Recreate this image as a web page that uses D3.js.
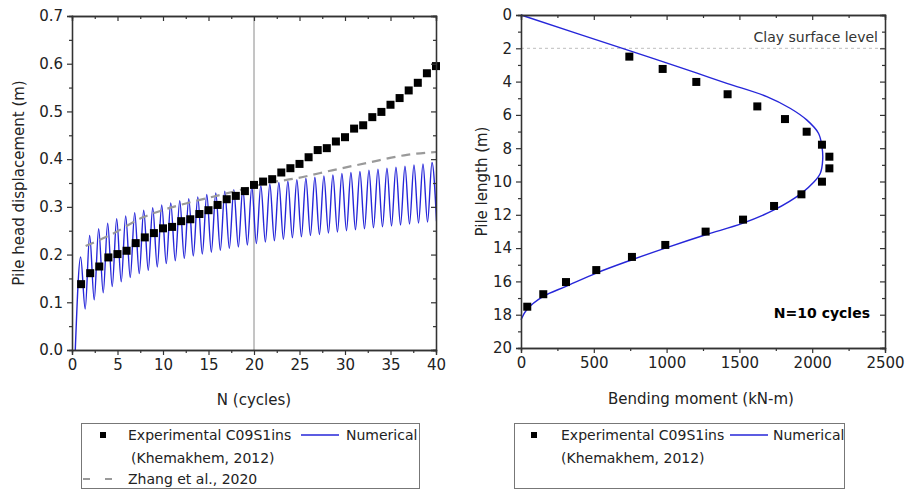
<!DOCTYPE html>
<html>
<head>
<meta charset="utf-8">
<script src="https://cdn.jsdelivr.net/npm/d3@7/dist/d3.min.js"></script>
<style>
  html, body { margin: 0; padding: 0; background: #fff; }
  svg { display: block; font-family: "DejaVu Sans", Verdana, sans-serif; }
</style>
</head>
<body>
<svg id="chart" width="906" height="491"></svg>
<script>
// ---------- Left panel: pile head displacement vs number of cycles ----------
const expCycles = [1,2,3,4,5,6,7,8,9,10,11,12,13,14,15,16,17,18,19,20,
                   21,22,23,24,25,26,27,28,29,30,31,32,33,34,35,36,37,38,39,40];
const expDisp = [0.138,0.161,0.175,0.194,0.201,0.208,0.224,0.236,0.245,0.255,
                 0.258,0.270,0.274,0.285,0.293,0.304,0.316,0.323,0.333,0.346,
                 0.353,0.358,0.372,0.381,0.390,0.404,0.419,0.423,0.437,0.446,
                 0.464,0.471,0.488,0.499,0.514,0.528,0.544,0.560,0.580,0.595];

// Numerical response: start point, then alternating cycle peaks and troughs
const numStart = [0.36, 0.0];
const numPeakN = [0.95,1.94,2.93,3.92,4.91,5.90,6.89,7.88,8.87,9.86,
                  10.85,11.84,12.83,13.82,14.81,15.80,16.79,17.78,18.77,19.76,
                  20.75,21.74,22.73,23.72,24.71,25.70,26.69,27.68,28.67,29.66,
                  30.65,31.64,32.63,33.62,34.61,35.60,36.59,37.58,38.57,39.56];
const numPeakDisp = [0.195,0.240,0.254,0.266,0.275,0.281,0.288,0.293,0.298,0.304,
                     0.308,0.313,0.317,0.321,0.326,0.329,0.333,0.336,0.339,0.342,
                     0.345,0.348,0.351,0.354,0.357,0.360,0.362,0.365,0.367,0.370,
                     0.372,0.374,0.377,0.379,0.381,0.383,0.385,0.388,0.390,0.393];
const numTroughN = [1.45,2.44,3.43,4.42,5.41,6.40,7.39,8.38,9.37,10.36,
                    11.35,12.34,13.33,14.32,15.31,16.30,17.29,18.28,19.27,20.26,
                    21.25,22.24,23.23,24.22,25.21,26.20,27.19,28.18,29.17,30.16,
                    31.15,32.14,33.13,34.12,35.11,36.10,37.09,38.08,39.07,40.06];
const numTroughDisp = [0.086,0.105,0.120,0.133,0.143,0.152,0.160,0.167,0.174,0.181,
                       0.187,0.192,0.197,0.201,0.205,0.209,0.213,0.216,0.220,0.223,
                       0.226,0.229,0.232,0.235,0.237,0.240,0.242,0.245,0.247,0.250,
                       0.252,0.254,0.256,0.258,0.260,0.262,0.264,0.266,0.268,0.270];

// Zhang et al. (2020) prediction
const zhangN = [1.5,4.2,7.8,11.9,14.8,18.0,21.5,24.7,28.7,32.4,36.8,40];
const zhangDisp = [0.218,0.241,0.278,0.304,0.318,0.333,0.350,0.360,0.377,0.392,0.409,0.415];

const leftXTicks = [0,5,10,15,20,25,30,35,40];
const leftYTicks = [0.0,0.1,0.2,0.3,0.4,0.5,0.6,0.7];

// ---------- Right panel: bending moment profile along the pile ----------
const expMoment = [744,973,1204,1419,1623,1813,1962,2067,2118,2118,2067,1926,
                   1738,1525,1268,991,762,517,309,153,43];
const expDepth = [2.50,3.24,4.02,4.76,5.49,6.25,7.01,7.79,8.51,9.21,10.01,10.77,
                  11.47,12.29,13.01,13.81,14.53,15.32,16.04,16.77,17.52];

const numMoment = [0,744,973,1204,1419,1688,1848,1962,2043,2067,2072,2056,2010,
                   1926,1738,1525,1268,991,762,517,309,153,39,0];
const numDepth = [0,2.14,2.80,3.48,4.12,4.90,5.60,6.30,7.10,7.90,8.70,9.50,10.05,
                  10.71,11.71,12.50,13.20,14.00,14.70,15.50,16.30,16.90,17.70,18.30];

const claySurfaceDepth = 2;
const rightXTicks = [0,500,1000,1500,2000,2500];
const rightYTicks = [0,2,4,6,8,10,12,14,16,18,20];

// ---------- Styling ----------
const BLUE = "#2626d9";
const AXIS = "#333";
const TEXT = "#222";

const svg = d3.select("#chart");

function framedAxes(g, x, y, xMajor, yMajor, xMinor, yMinor, xFmt, yFmt, w, h) {
  const major = 5, minor = 3;
  // bottom
  g.append("g").attr("transform", `translate(0,${h})`)
    .call(d3.axisBottom(x).tickValues(xMajor).tickSize(major).tickFormat(xFmt).tickPadding(4));
  g.append("g").attr("transform", `translate(0,${h})`)
    .call(d3.axisBottom(x).tickValues(xMinor).tickSize(minor).tickFormat(""));
  // left
  g.append("g")
    .call(d3.axisLeft(y).tickValues(yMajor).tickSize(major).tickFormat(yFmt).tickPadding(4));
  g.append("g")
    .call(d3.axisLeft(y).tickValues(yMinor).tickSize(minor).tickFormat(""));
  // top (ticks inward)
  g.append("g").call(d3.axisTop(x).tickValues(xMajor).tickSize(-major).tickFormat(""));
  g.append("g").call(d3.axisTop(x).tickValues(xMinor).tickSize(-minor).tickFormat(""));
  // right (ticks inward)
  g.append("g").attr("transform", `translate(${w},0)`)
    .call(d3.axisRight(y).tickValues(yMajor).tickSize(-major).tickFormat(""));
  g.append("g").attr("transform", `translate(${w},0)`)
    .call(d3.axisRight(y).tickValues(yMinor).tickSize(-minor).tickFormat(""));

  g.selectAll(".domain").attr("stroke", AXIS).attr("stroke-width", 1.3);
  g.selectAll(".tick line").attr("stroke", AXIS).attr("stroke-width", 1.2);
  g.selectAll(".tick text").attr("fill", TEXT).style("font-size", "15px")
    .style("font-family", "'DejaVu Sans', Verdana, sans-serif");
}

// ===== Left panel =====
{
  const L = 72, T = 16, W = 436 - 72, H = 350 - 16;
  const g = svg.append("g").attr("transform", `translate(${L},${T})`);
  const x = d3.scaleLinear().domain([0, 40]).range([0, W]);
  const y = d3.scaleLinear().domain([0, 0.7]).range([H, 0]);

  g.append("clipPath").attr("id", "clipL").append("rect")
    .attr("x", 0).attr("y", 0).attr("width", W).attr("height", H);

  // reference line at N = 20
  g.append("line").attr("x1", x(20)).attr("x2", x(20)).attr("y1", 0).attr("y2", H)
    .attr("stroke", "#8a8a8a").attr("stroke-width", 1);

  // numerical curve
  const numPts = [numStart];
  numPeakN.forEach((n, i) => {
    numPts.push([n, numPeakDisp[i]]);
    numPts.push([numTroughN[i], numTroughDisp[i]]);
  });
  g.append("path").datum(numPts)
    .attr("clip-path", "url(#clipL)")
    .attr("fill", "none").attr("stroke", BLUE).attr("stroke-width", 1.4)
    .attr("d", d3.line().x(d => x(d[0])).y(d => y(d[1])).curve(d3.curveMonotoneX));

  // Zhang et al. dashed curve
  g.append("path").datum(zhangN.map((n, i) => [n, zhangDisp[i]]))
    .attr("fill", "none").attr("stroke", "#9a9a9a").attr("stroke-width", 2.2)
    .attr("stroke-dasharray", "9,6")
    .attr("d", d3.line().x(d => x(d[0])).y(d => y(d[1])).curve(d3.curveMonotoneX));

  // experimental squares
  const s = 8;
  g.selectAll("rect.exp").data(expCycles).join("rect").attr("class", "exp")
    .attr("x", (d) => x(d) - s / 2).attr("y", (d, i) => y(expDisp[i]) - s / 2)
    .attr("width", s).attr("height", s).attr("fill", "#000");

  framedAxes(g, x, y, leftXTicks, leftYTicks,
    d3.range(2.5, 40, 5), d3.range(0.05, 0.7, 0.1),
    d3.format("d"), d3.format(".1f"), W, H);

  // axis titles
  svg.append("text").attr("x", L + W / 2).attr("y", 405).attr("text-anchor", "middle")
    .attr("fill", TEXT).style("font-size", "15px").text("N (cycles)");
  svg.append("text").attr("transform", `translate(24,${T + H / 2}) rotate(-90)`)
    .attr("text-anchor", "middle").attr("fill", TEXT).style("font-size", "15px")
    .text("Pile head displacement (m)");

  // legend
  const lg = svg.append("g");
  lg.append("rect").attr("x", 81.5).attr("y", 423.5).attr("width", 338).attr("height", 65)
    .attr("fill", "#fff").attr("stroke", "#777").attr("stroke-width", 1);
  lg.append("rect").attr("x", 100).attr("y", 432).attr("width", 6).attr("height", 6).attr("fill", "#000");
  lg.append("text").attr("x", 128).attr("y", 440).attr("fill", TEXT).style("font-size", "14px")
    .text("Experimental C09S1ins");
  lg.append("line").attr("x1", 301).attr("x2", 339).attr("y1", 435).attr("y2", 435)
    .attr("stroke", BLUE).attr("stroke-width", 1.3);
  lg.append("text").attr("x", 346).attr("y", 440).attr("fill", TEXT).style("font-size", "14px")
    .text("Numerical");
  lg.append("text").attr("x", 131).attr("y", 463).attr("fill", TEXT).style("font-size", "14px")
    .text("(Khemakhem, 2012)");
  lg.append("line").attr("x1", 83).attr("x2", 113).attr("y1", 479).attr("y2", 479)
    .attr("stroke", "#9a9a9a").attr("stroke-width", 2).attr("stroke-dasharray", "7,15");
  lg.append("text").attr("x", 128).attr("y", 484).attr("fill", TEXT).style("font-size", "14px")
    .text("Zhang et al., 2020");
}

// ===== Right panel =====
{
  const L = 521, T = 15, W = 885 - 521, H = 348 - 15;
  const g = svg.append("g").attr("transform", `translate(${L},${T})`);
  const x = d3.scaleLinear().domain([0, 2500]).range([0, W]);
  const y = d3.scaleLinear().domain([0, 20]).range([0, H]);

  // clay surface level
  g.append("line").attr("x1", 0).attr("x2", W)
    .attr("y1", y(claySurfaceDepth)).attr("y2", y(claySurfaceDepth))
    .attr("stroke", "#bdbdbd").attr("stroke-width", 1).attr("stroke-dasharray", "3,3");
  g.append("text").attr("x", W - 7).attr("y", y(claySurfaceDepth) - 6)
    .attr("text-anchor", "end").attr("fill", "#333").style("font-size", "14px")
    .text("Clay surface level");

  // numerical moment profile
  g.append("path").datum(numMoment.map((m, i) => [m, numDepth[i]]))
    .attr("fill", "none").attr("stroke", BLUE).attr("stroke-width", 1.4)
    .attr("d", d3.line().x(d => x(d[0])).y(d => y(d[1])).curve(d3.curveCatmullRom));

  // experimental squares
  const s = 8;
  g.selectAll("rect.exp").data(expMoment).join("rect").attr("class", "exp")
    .attr("x", d => x(d) - s / 2).attr("y", (d, i) => y(expDepth[i]) - s / 2)
    .attr("width", s).attr("height", s).attr("fill", "#000");

  g.append("text").attr("x", W - 15).attr("y", y(17.9) + 5).attr("text-anchor", "end")
    .attr("fill", "#000").style("font-size", "14px").style("font-weight", "bold")
    .text("N=10 cycles");

  framedAxes(g, x, y, rightXTicks, rightYTicks,
    d3.range(250, 2500, 500), d3.range(1, 20, 2),
    d3.format("d"), d3.format("d"), W, H);

  svg.append("text").attr("x", L + W / 2 - 2).attr("y", 404).attr("text-anchor", "middle")
    .attr("fill", TEXT).style("font-size", "15px").text("Bending moment (kN-m)");
  svg.append("text").attr("transform", `translate(487,${T + H / 2}) rotate(-90)`)
    .attr("text-anchor", "middle").attr("fill", TEXT).style("font-size", "15px")
    .text("Pile length (m)");

  const lg = svg.append("g");
  lg.append("rect").attr("x", 514.5).attr("y", 423.5).attr("width", 330).attr("height", 65)
    .attr("fill", "#fff").attr("stroke", "#777").attr("stroke-width", 1);
  lg.append("rect").attr("x", 531).attr("y", 432).attr("width", 6).attr("height", 6).attr("fill", "#000");
  lg.append("text").attr("x", 561).attr("y", 440).attr("fill", TEXT).style("font-size", "14px")
    .text("Experimental C09S1ins");
  lg.append("line").attr("x1", 730).attr("x2", 768).attr("y1", 435).attr("y2", 435)
    .attr("stroke", BLUE).attr("stroke-width", 1.3);
  lg.append("text").attr("x", 773).attr("y", 440).attr("fill", TEXT).style("font-size", "14px")
    .text("Numerical");
  lg.append("text").attr("x", 561).attr("y", 463).attr("fill", TEXT).style("font-size", "14px")
    .text("(Khemakhem, 2012)");
}
</script>
</body>
</html>
